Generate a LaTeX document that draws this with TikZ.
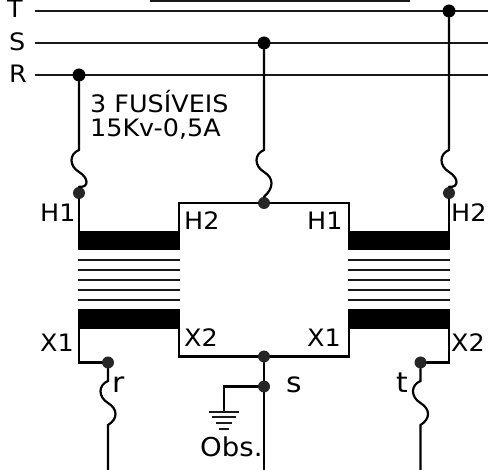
\documentclass[tikz,border=0pt]{standalone}
\usepackage{fontspec}
\setmainfont[FakeStretch=1.06]{DejaVu Sans}
\usetikzlibrary{calc}
\tikzset{
	wire/.style={line width=2.2pt,line cap=round,line join=miter},
	thinwire/.style={line width=2pt,color=black!90},
	bus/.style={circle,fill=black,inner sep=0pt,minimum size=13pt},
	tap/.style={circle,fill=black!85,inner sep=0pt,minimum size=12pt},
	lbl/.style={anchor=base west,inner sep=0pt,font=\fontsize{24}{24}\selectfont},
	biglbl/.style={lbl,font=\fontsize{28}{28}\selectfont},
	fuse/.style={to path={.. controls ($(\tikztostart)+(-10,4)$) and ($(\tikztostart)+(-10,16)$) .. ($(\tikztostart)+(0,22)$)
		.. controls ($(\tikztostart)+(10,28)$) and ($(\tikztostart)+(10,38)$) .. (\tikztotarget)}}
}
\begin{document}
\begin{tikzpicture}[x=1pt,y=-1pt]
	\useasboundingbox (0,0) rectangle (488,470);
	% bus bars
	\coordinate (topa) at (150,0.7);
	\coordinate (topb) at (410,0.7);
	\coordinate (Ta) at (35,11);
	\coordinate (Tb) at (488,11);
	\coordinate (Sa) at (35,43);
	\coordinate (Sb) at (488,43);
	\coordinate (Ra) at (35,75);
	\coordinate (Rb) at (488,75);
	\draw[thinwire] (topa) -- (topb);
	\draw[thinwire] (Ta) -- (Tb);
	\draw[thinwire] (Sa) -- (Sb);
	\draw[thinwire] (Ra) -- (Rb);
	% transformer cores
	\fill (78,231) rectangle (180,250.5);
	\fill (78,309.5) rectangle (180,329);
	\fill (348,231) rectangle (450,250.5);
	\fill (348,309.5) rectangle (450,329);
	\foreach \y in {259.7,269.8,279.8,290,300.2} {
		\draw[thinwire] (78,\y) -- (180,\y);
		\draw[thinwire] (348,\y) -- (450,\y);
	}
	% junctions
	\node[bus] (dotR) at (79,75) {};
	\node[bus] (dotS) at (264,43) {};
	\node[bus] (dotT) at (449,11) {};
	\node[tap] (tapH1) at (79,193) {};
	\node[tap] (tapH) at (264,203) {};
	\node[tap] (tapH2) at (449,193) {};
	\node[tap] (tapr) at (108,362.5) {};
	\node[tap] (tapX) at (264,356.5) {};
	\node[tap] (tapG) at (264,386.5) {};
	\node[tap] (tapt) at (420.5,362.5) {};
	% fuses high side
	\coordinate (fRa) at (79,150);
	\coordinate (fSa) at (264,150);
	\coordinate (fTa) at (449,150);
	\draw[wire] (dotR) -- (fRa) to[fuse] (tapH1.north);
	\draw[wire] (dotS) -- (fSa) to[fuse] (tapH.north);
	\draw[wire] (dotT) -- (fTa) to[fuse] (tapH2.north);
	% primary windings
	\coordinate (cL1) at (79,232);
	\coordinate (cL2) at (179,232);
	\coordinate (cR1) at (349,232);
	\coordinate (cR2) at (449,232);
	\coordinate (hL) at (179,203);
	\coordinate (hR) at (349,203);
	\draw[wire] (tapH1) -- (cL1);
	\draw[wire] (cL2) -- (hL) -- (tapH) -- (hR) -- (cR1);
	\draw[wire] (tapH2) -- (cR2);
	% secondary windings
	\coordinate (dL1) at (79,328);
	\coordinate (dL2) at (179,328);
	\coordinate (dR1) at (349,328);
	\coordinate (dR2) at (449,328);
	\coordinate (xL1) at (79,362.5);
	\coordinate (xL2) at (179,356.5);
	\coordinate (xR1) at (349,356.5);
	\coordinate (xR2) at (449,362.5);
	\draw[wire] (dL1) -- (xL1) -- (tapr);
	\draw[wire] (dL2) -- (xL2) -- (tapX) -- (xR1) -- (dR1);
	\draw[wire] (dR2) -- (xR2) -- (tapt);
	% fuses low side
	\coordinate (frb) at (108,425);
	\coordinate (ftb) at (420.5,425);
	\coordinate (rend) at (108,470);
	\coordinate (send) at (264,470);
	\coordinate (tend) at (420.5,470);
	\draw[wire] (tapr) -- (108,381) to[fuse] (frb) -- (rend);
	\draw[wire] (tapt) -- (420.5,381) to[fuse] (ftb) -- (tend);
	\draw[wire] (tapX) -- (tapG) -- (send);
	% ground
	\coordinate (gbend) at (224,386.5);
	\coordinate (gtop) at (224,412);
	\draw[wire] (tapG) -- (gbend) -- (gtop);
	\draw[thinwire] (209,412) -- (239,412);
	\draw[thinwire] (212,417) -- (236,417);
	\draw[thinwire] (216,423) -- (232,423);
	\draw[thinwire] (219,429) -- (229,429);
	% labels
	\node[lbl] (lT) at (7,18) {T};
	\node[lbl] (lS) at (9,50.5) {S};
	\node[lbl] (lR) at (9,83) {R};
	\node[lbl,align=left,anchor=north west] (lfuse) at (90,90.5) {3 FUSÍVEIS\\15Kv-0,5A};
	\node[lbl] (lH1a) at (40,222) {H1};
	\node[lbl] (lH2a) at (184,229.5) {H2};
	\node[lbl] (lH1b) at (307,229.5) {H1};
	\node[lbl] (lH2b) at (451,222) {H2};
	\node[lbl] (lX1a) at (40,352) {X1};
	\node[lbl] (lX2a) at (184,347) {X2};
	\node[lbl] (lX1b) at (307,347) {X1};
	\node[lbl] (lX2b) at (451,352) {X2};
	\node[biglbl] (lr) at (112,393) {r};
	\node[biglbl] (ls) at (286,393) {s};
	\node[biglbl] (lt) at (396,393) {t};
	\node[lbl,font=\fontsize{26}{26}\selectfont] (lobs) at (200,457) {Obs.};
\end{tikzpicture}
\end{document}
